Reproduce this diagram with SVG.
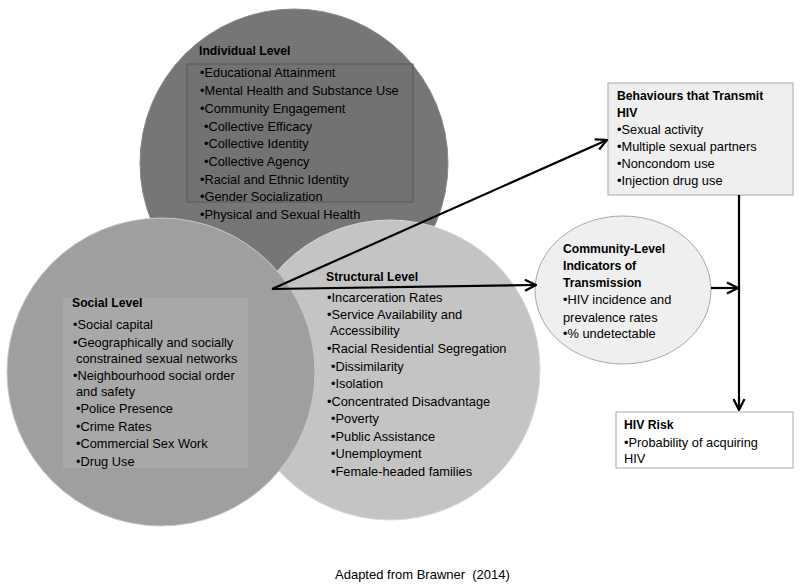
<svg xmlns="http://www.w3.org/2000/svg" width="800" height="588" viewBox="0 0 800 588">
<defs>
<marker id="arr" markerUnits="userSpaceOnUse" markerWidth="14" markerHeight="14" viewBox="0 0 14 14" refX="13" refY="7" orient="auto">
<path d="M2,1.5 L13,7 L2,12.5" fill="none" stroke="#000" stroke-width="2.2"/>
</marker>
</defs>
<style>
text{font-family:"Liberation Sans",Arial,sans-serif;font-size:12.8px;fill:#000}
.b{font-weight:bold;font-size:12.2px}
.cap{font-size:13px;white-space:pre}
.conn{stroke:#000;stroke-width:2.2;fill:none}
</style>
<rect width="800" height="588" fill="#fff"/>
<g id="individual">
<circle cx="294" cy="163" r="154" fill="#767676" stroke="#8a8a8a" stroke-width="1"/>
<rect x="187" y="64" width="226" height="138" fill="#727272" stroke="#585858" stroke-width="1"/>
<text class="b" x="199" y="55">Individual Level</text>
<text x="200" y="77">•Educational Attainment</text>
<text x="200" y="95">•Mental Health and Substance Use</text>
<text x="200" y="113">•Community Engagement</text>
<text x="204" y="131">•Collective Efficacy</text>
<text x="204" y="148">•Collective Identity</text>
<text x="204" y="166">•Collective Agency</text>
<text x="200" y="184">•Racial and Ethnic Identity</text>
<text x="200" y="201">•Gender Socialization</text>
<text x="200" y="219">•Physical and Sexual Health</text>
</g>
<g id="structural">
<circle cx="390" cy="370" r="150" fill="#c4c4c4" stroke="#d8d8d8" stroke-width="1"/>
<text class="b" x="326" y="281">Structural Level</text>
<text x="327" y="302">•Incarceration Rates</text>
<text x="327" y="319">•Service Availability and</text>
<text x="330" y="335">Accessibility</text>
<text x="327" y="353">•Racial Residential Segregation</text>
<text x="331" y="371">•Dissimilarity</text>
<text x="331" y="388">•Isolation</text>
<text x="327" y="406">•Concentrated Disadvantage</text>
<text x="331" y="423">•Poverty</text>
<text x="331" y="441">•Public Assistance</text>
<text x="331" y="458">•Unemployment</text>
<text x="331" y="476">•Female-headed families</text>
</g>
<g id="social">
<ellipse cx="161" cy="372" rx="154" ry="154" fill="#9f9f9f" stroke="#c8c8c8" stroke-width="1"/>
<rect x="63" y="298" width="185" height="170" fill="#a8a8a8"/>
<text class="b" x="72" y="307">Social Level</text>
<text x="73" y="329">•Social capital</text>
<text x="73" y="347">•Geographically and socially</text>
<text x="76" y="363">constrained sexual networks</text>
<text x="73" y="380">•Neighbourhood social order</text>
<text x="76" y="396">and safety</text>
<text x="76" y="413">•Police Presence</text>
<text x="76" y="431">•Crime Rates</text>
<text x="76" y="448">•Commercial Sex Work</text>
<text x="76" y="466">•Drug Use</text>
</g>
<g id="behaviours">
<rect x="608" y="83" width="185" height="112" fill="#efefef" stroke="#a8a8a8" stroke-width="1"/>
<text class="b" x="617" y="100">Behaviours that Transmit</text>
<text class="b" x="617" y="117">HIV</text>
<text x="617" y="134">•Sexual activity</text>
<text x="617" y="151">•Multiple sexual partners</text>
<text x="617" y="168">•Noncondom use</text>
<text x="617" y="185">•Injection drug use</text>
</g>
<g id="community">
<ellipse cx="623" cy="290" rx="88" ry="74" fill="#efefef" stroke="#a8a8a8" stroke-width="1"/>
<text class="b" x="563" y="253">Community-Level</text>
<text class="b" x="563" y="270">Indicators of</text>
<text class="b" x="563" y="287">Transmission</text>
<text x="563" y="304">•HIV incidence and</text>
<text x="563" y="322">prevalence rates</text>
<text x="563" y="338">•% undetectable</text>
</g>
<g id="hivrisk">
<rect x="616" y="412" width="177" height="56" fill="#fff" stroke="#a8a8a8" stroke-width="1"/>
<text class="b" x="624" y="429">HIV Risk</text>
<text x="624" y="447">•Probability of acquiring</text>
<text x="624" y="463">HIV</text>
</g>
<g id="connectors">
<path class="conn" d="M272,289 L607,140" marker-end="url(#arr)"/>
<path class="conn" d="M272,289 L536,285" marker-end="url(#arr)"/>
<path class="conn" d="M711,288 L738,288" marker-end="url(#arr)"/>
<path class="conn" d="M739,195 L739,410" marker-end="url(#arr)"/>
</g>
<text class="cap" x="335" y="579" xml:space="preserve">Adapted from Brawner  (2014)</text>
</svg>
